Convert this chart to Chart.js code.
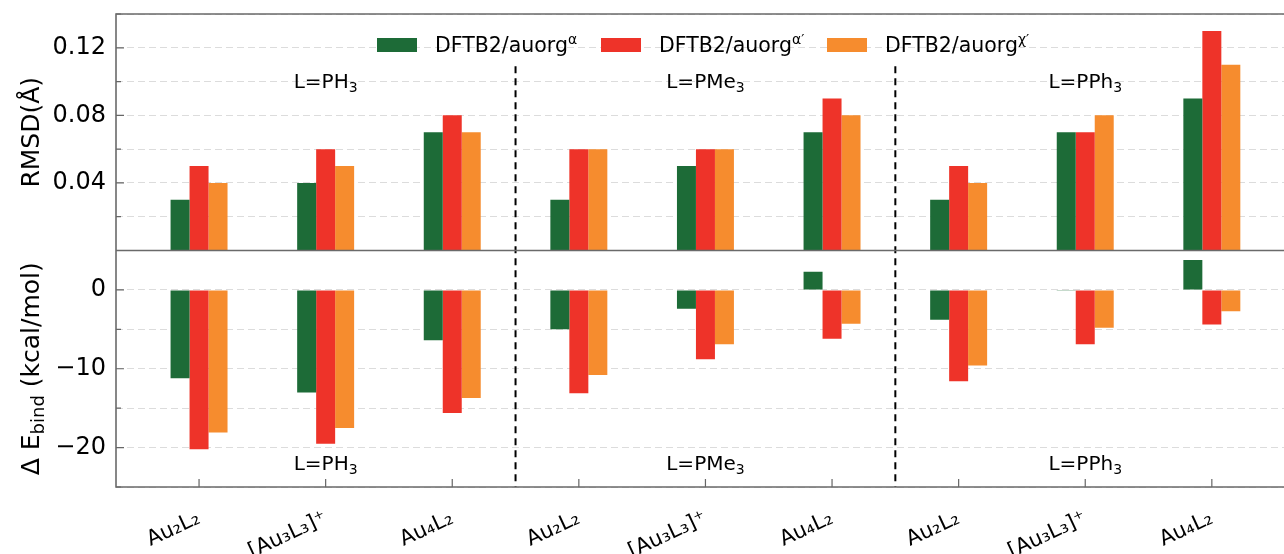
<!DOCTYPE html>
<html>
<head>
<meta charset="utf-8">
<script src="https://cdn.jsdelivr.net/npm/chart.js@4.4.0/dist/chart.umd.min.js"></script>
<style>
  html, body { margin: 0; padding: 0; background: #fff; }
  #wrap { width: 1284px; height: 554px; }
</style>
</head>
<body>
<div id="wrap"><canvas id="binding" width="1284" height="554"></canvas></div>
<script>
const categories = ['Au₂L₂', '[Au₃L₃]⁺', 'Au₄L₂', 'Au₂L₂', '[Au₃L₃]⁺', 'Au₄L₂', 'Au₂L₂', '[Au₃L₃]⁺', 'Au₄L₂'];
const ligands = ['L=PH', 'L=PMe', 'L=PPh'];
const ligandSub = '3';
const seriesBase = 'DFTB2/auorg';
const seriesSup = ['α', 'α′', 'χ′'];
const seriesColors = ['#1d6b37', '#ee3329', '#f68c2e'];

// RMSD (Å), top panel
const rmsdAlpha  = [0.03, 0.04, 0.07, 0.03, 0.05, 0.07, 0.03, 0.07, 0.09];
const rmsdAlphaP = [0.05, 0.06, 0.08, 0.06, 0.06, 0.09, 0.05, 0.07, 0.13];
const rmsdChiP   = [0.04, 0.05, 0.07, 0.06, 0.06, 0.08, 0.04, 0.08, 0.11];

// delta E_bind (kcal/mol), bottom panel
const dEAlpha  = [-11.2, -13.0, -6.4, -5.0, -2.4, 2.3, -3.8, -0.1, 3.8];
const dEAlphaP = [-20.2, -19.5, -15.6, -13.1, -8.8, -6.2, -11.6, -6.9, -4.4];
const dEChiP   = [-18.1, -17.5, -13.7, -10.8, -6.9, -4.3, -9.6, -4.8, -2.7];

const rmsdTickLabels = [0.04, 0.08, 0.12];
const dETickLabels = [0, -10, -20];
const groupBreaks = [2.5, 5.5];

const FONT = '"DejaVu Sans", sans-serif';
Chart.defaults.font.family = FONT;
Chart.defaults.color = '#000';

const toXY = arr => arr.map((v, i) => ({x: i, y: v}));

const datasets = [];
[rmsdAlpha, rmsdAlphaP, rmsdChiP].forEach((arr, k) => datasets.push({
    label: seriesBase + seriesSup[k], data: toXY(arr), yAxisID: 'yR',
    stack: 's' + k, backgroundColor: seriesColors[k], borderWidth: 0
}));
[dEAlpha, dEAlphaP, dEChiP].forEach((arr, k) => datasets.push({
    label: seriesBase + seriesSup[k], data: toXY(arr), yAxisID: 'yE',
    stack: 's' + k, backgroundColor: seriesColors[k], borderWidth: 0
}));

function drawRich(ctx, parts, x, y, align) {
    let w = 0;
    parts.forEach(p => { ctx.font = p[1] + 'px ' + FONT; w += ctx.measureText(p[0]).width; });
    let cx = align === 'center' ? x - w / 2 : x;
    ctx.textAlign = 'left';
    ctx.textBaseline = 'alphabetic';
    parts.forEach(p => {
        ctx.font = p[1] + 'px ' + FONT;
        ctx.fillText(p[0], cx, y + p[2]);
        cx += ctx.measureText(p[0]).width;
    });
    return w;
}

const decor = {
    id: 'decor',
    afterDatasetsDraw(chart) {
        const {ctx, chartArea: a, scales} = chart;
        const x = scales.x, yR = scales.yR, yE = scales.yE;
        ctx.save();

        // inward ticks
        ctx.strokeStyle = '#666';
        ctx.lineWidth = 1.2;
        ctx.beginPath();
        yR.ticks.forEach(t => {
            const py = yR.getPixelForValue(t.value);
            const len = rmsdTickLabels.some(l => Math.abs(l - t.value) < 1e-6) ? 8 : 5;
            ctx.moveTo(a.left, py); ctx.lineTo(a.left + len, py);
        });
        yE.ticks.forEach(t => {
            const py = yE.getPixelForValue(t.value);
            const len = dETickLabels.includes(t.value) ? 8 : 5;
            ctx.moveTo(a.left, py); ctx.lineTo(a.left + len, py);
        });
        categories.forEach((c, i) => {
            const px = x.getPixelForValue(i);
            ctx.moveTo(px, a.bottom); ctx.lineTo(px, a.bottom - 8);
        });
        ctx.stroke();

        // group separators
        ctx.strokeStyle = '#000';
        ctx.lineWidth = 2;
        ctx.setLineDash([7, 5]);
        groupBreaks.forEach(v => {
            const px = x.getPixelForValue(v);
            ctx.beginPath();
            ctx.moveTo(px, yR.getPixelForValue(0.109));
            ctx.lineTo(px, yE.bottom);
            ctx.stroke();
        });
        ctx.setLineDash([]);

        // frame
        ctx.strokeStyle = '#6a6a6a';
        ctx.lineWidth = 1.6;
        ctx.beginPath();
        ctx.moveTo(a.right, yR.top); ctx.lineTo(a.left, yR.top);
        ctx.lineTo(a.left, yE.bottom); ctx.lineTo(a.right, yE.bottom);
        ctx.moveTo(a.left, yR.bottom); ctx.lineTo(a.right, yR.bottom);
        ctx.stroke();

        // ligand labels
        ctx.fillStyle = '#000';
        ligands.forEach((t, g) => {
            const px = x.getPixelForValue(g * 3 + 1);
            const parts = [[t, 20, 0], [ligandSub, 14, 4]];
            drawRich(ctx, parts, px, yR.getPixelForValue(0.1005) + 7, 'center');
            drawRich(ctx, parts, px, yE.getPixelForValue(-22) + 7, 'center');
        });

        // legend
        const legendX = [377, 601, 827];
        chart.data.datasets.slice(0, 3).forEach((ds, k) => {
            ctx.fillStyle = ds.backgroundColor;
            ctx.fillRect(legendX[k], 38, 40, 14);
            ctx.fillStyle = '#000';
            drawRich(ctx, [[seriesBase, 20.5, 0], [seriesSup[k], 14, -8]], legendX[k] + 58, 52, 'left');
        });

        // axis titles
        ctx.save();
        ctx.translate(39, (yR.top + yR.bottom) / 2);
        ctx.rotate(-Math.PI / 2);
        drawRich(ctx, [['RMSD(Å)', 25, 0]], 0, 0, 'center');
        ctx.restore();
        ctx.save();
        ctx.translate(39, (yE.top + yE.bottom) / 2);
        ctx.rotate(-Math.PI / 2);
        drawRich(ctx, [['Δ E', 25, 0], ['bind', 18, 5], [' (kcal/mol)', 25, 0]], 0, 0, 'center');
        ctx.restore();

        ctx.restore();
    }
};

const fitY = s => { s.width = 116; s.paddingTop = 0; s.paddingBottom = 0; };

new Chart(document.getElementById('binding'), {
    type: 'bar',
    data: {datasets},
    options: {
        responsive: false,
        animation: false,
        devicePixelRatio: 1,
        layout: {padding: {top: 14, right: 0, bottom: 0, left: 0}},
        plugins: {legend: {display: false}, tooltip: {enabled: false}},
        datasets: {bar: {categoryPercentage: 0.45, barPercentage: 1}},
        scales: {
            x: {
                type: 'linear', min: -0.656, max: 8.57, offset: false,
                afterBuildTicks: s => { s.ticks = categories.map((c, i) => ({value: i})); },
                afterFit: s => { s.height = 67; s.paddingLeft = 0; s.paddingRight = 0; },
                grid: {display: false},
                border: {display: false},
                ticks: {
                    autoSkip: false, minRotation: 25, maxRotation: 25, padding: 11,
                    font: {size: 21},
                    callback: v => categories[Math.round(v)]
                }
            },
            yE: {
                type: 'linear', position: 'left', stack: 'panels', stackWeight: 1, weight: 1,
                min: -25, max: 5, stacked: false,
                afterFit: fitY,
                grid: {color: '#dcdcdc', lineWidth: 1, drawTicks: false},
                border: {display: false, dash: [7, 4]},
                ticks: {
                    autoSkip: false, stepSize: 5, padding: 10, font: {size: 24},
                    callback: v => dETickLabels.includes(v) ? String(v).replace('-', '−') : ''
                }
            },
            yR: {
                type: 'linear', position: 'left', stack: 'panels', stackWeight: 1, weight: 2,
                min: 0, max: 0.14, stacked: false,
                afterFit: fitY,
                grid: {color: '#dcdcdc', lineWidth: 1, drawTicks: false},
                border: {display: false, dash: [7, 4]},
                ticks: {
                    autoSkip: false, stepSize: 0.02, padding: 10, font: {size: 24},
                    callback: v => {
                        const hit = rmsdTickLabels.find(l => Math.abs(l - v) < 1e-6);
                        return hit !== undefined ? hit.toFixed(2) : '';
                    }
                }
            }
        }
    },
    plugins: [decor]
});
</script>
</body>
</html>
